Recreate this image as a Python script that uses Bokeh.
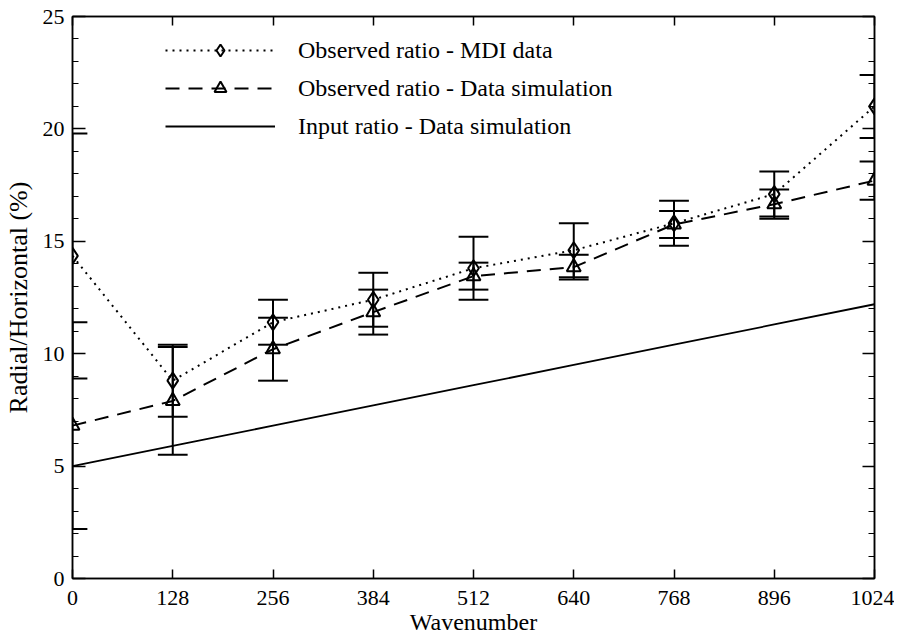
from bokeh.plotting import figure
from bokeh.models import (FixedTicker, LinearAxis, Range1d, Legend, LegendItem,
                          ColumnDataSource)
from bokeh.embed import file_html
from bokeh.resources import INLINE

# ---- data ----
wavenumber = [0, 128, 256, 384, 512, 640, 768, 896, 1024]
mdi_ratio = [14.35, 8.8, 11.4, 12.4, 13.8, 14.6, 15.8, 17.1, 21.0]
mdi_err = [5.45, 1.6, 1.0, 1.2, 1.4, 1.2, 1.0, 1.0, 1.4]
sim_ratio = [6.8, 7.9, 10.2, 11.85, 13.45, 13.85, 15.75, 16.65, 17.7]
sim_err = [4.6, 2.4, 1.4, 1.0, 0.6, 0.55, 0.6, 0.65, 0.85]
input_ratio = [5.0, 5.9, 6.8, 7.7, 8.6, 9.5, 10.4, 11.3, 12.2]
x_ticks = [0, 128, 256, 384, 512, 640, 768, 896, 1024]
y_major = [0, 5, 10, 15, 20, 25]
y_minor = list(range(0, 26))
labels = ["Observed ratio - MDI data",
          "Observed ratio - Data simulation",
          "Input ratio - Data simulation"]
x_title = "Wavenumber"
y_title = "Radial/Horizontal (%)"

FONT = "Liberation Serif"
CAP = 19  # half width of error-bar caps, in wavenumber units

p = figure(width=894, height=638,
           x_range=Range1d(0, 1024), y_range=Range1d(0, 25),
           output_backend="svg", toolbar_location=None,
           min_border_left=68, min_border_right=20,
           min_border_top=16, min_border_bottom=60)
p.grid.visible = False
p.outline_line_color = "black"
p.outline_line_width = 1.5
p.background_fill_color = "white"
p.border_fill_color = "white"

xt = FixedTicker(ticks=x_ticks, minor_ticks=[])
yt = FixedTicker(ticks=y_major, minor_ticks=y_minor)

def style_axis(ax, tick_in, minor_in, labels_on=True):
    ax.axis_line_color = "black"
    ax.axis_line_width = 1.5
    ax.major_tick_in = tick_in
    ax.major_tick_out = 0
    ax.minor_tick_in = minor_in
    ax.minor_tick_out = 0
    ax.major_tick_line_color = "black"
    ax.minor_tick_line_color = "black"
    ax.major_tick_line_width = 1.5
    ax.minor_tick_line_width = 1
    if labels_on:
        ax.major_label_text_font = FONT
        ax.major_label_text_font_size = "22px"
        ax.major_label_text_color = "black"
        ax.axis_label_text_font = FONT
        ax.axis_label_text_font_style = "normal"
        ax.axis_label_text_color = "black"
    else:
        ax.major_label_overrides = {t: "" for t in ax.ticker.ticks}
        ax.major_label_text_font_size = "0px"
        ax.major_label_standoff = 0

xa = p.xaxis[0]
xa.ticker = xt
xa.axis_label = x_title
style_axis(xa, 9, 0)
xa.axis_label_text_font_size = "24px"
xa.major_label_standoff = 12
xa.axis_label_standoff = 1

ya = p.yaxis[0]
ya.ticker = yt
ya.axis_label = y_title
style_axis(ya, 13, 6)
ya.axis_label_text_font_size = "26px"
ya.major_label_standoff = 8
ya.axis_label_standoff = 7

top = LinearAxis(ticker=xt)
style_axis(top, 9, 0, labels_on=False)
p.add_layout(top, "above")
right = LinearAxis(ticker=yt)
style_axis(right, 12, 6, labels_on=False)
p.add_layout(right, "right")

# ---- series lines ----
mdi_line = p.line(wavenumber, mdi_ratio, line_color="black", line_width=2,
                  line_dash="2 5")
sim_line = p.line(wavenumber, sim_ratio, line_color="black", line_width=2,
                  line_dash="14 9")
inp_line = p.line(wavenumber, input_ratio, line_color="black", line_width=1.8)

# ---- error bars ----
for vals, errs in ((mdi_ratio, mdi_err), (sim_ratio, sim_err)):
    src = ColumnDataSource(dict(
        x=wavenumber,
        lo=[v - e for v, e in zip(vals, errs)],
        hi=[v + e for v, e in zip(vals, errs)],
        x0=[x - CAP for x in wavenumber],
        x1=[x + CAP for x in wavenumber],
    ))
    p.segment(x0="x", y0="lo", x1="x", y1="hi", source=src,
              line_color="black", line_width=2)
    p.segment(x0="x0", y0="lo", x1="x1", y1="lo", source=src,
              line_color="black", line_width=2)
    p.segment(x0="x0", y0="hi", x1="x1", y1="hi", source=src,
              line_color="black", line_width=2)

# ---- markers ----
mdi_pts = p.scatter(wavenumber, mdi_ratio, marker="diamond", size=16,
                    line_color="black", line_width=2, fill_alpha=0)
sim_pts = p.scatter(wavenumber, sim_ratio, marker="triangle", size=14,
                    line_color="black", line_width=2, fill_alpha=0)

legend = Legend(items=[
    LegendItem(label=labels[0], renderers=[mdi_line, mdi_pts]),
    LegendItem(label=labels[1], renderers=[sim_line, sim_pts]),
    LegendItem(label=labels[2], renderers=[inp_line]),
], location=(93, 437), glyph_width=110, glyph_height=30, label_height=30,
    spacing=8, padding=0, margin=0, border_line_color=None,
    background_fill_alpha=0, label_text_font=FONT,
    label_text_font_size="24px", label_standoff=23, label_text_color="black")
p.add_layout(legend)

open("out.html", "w").write(file_html(p, INLINE))
